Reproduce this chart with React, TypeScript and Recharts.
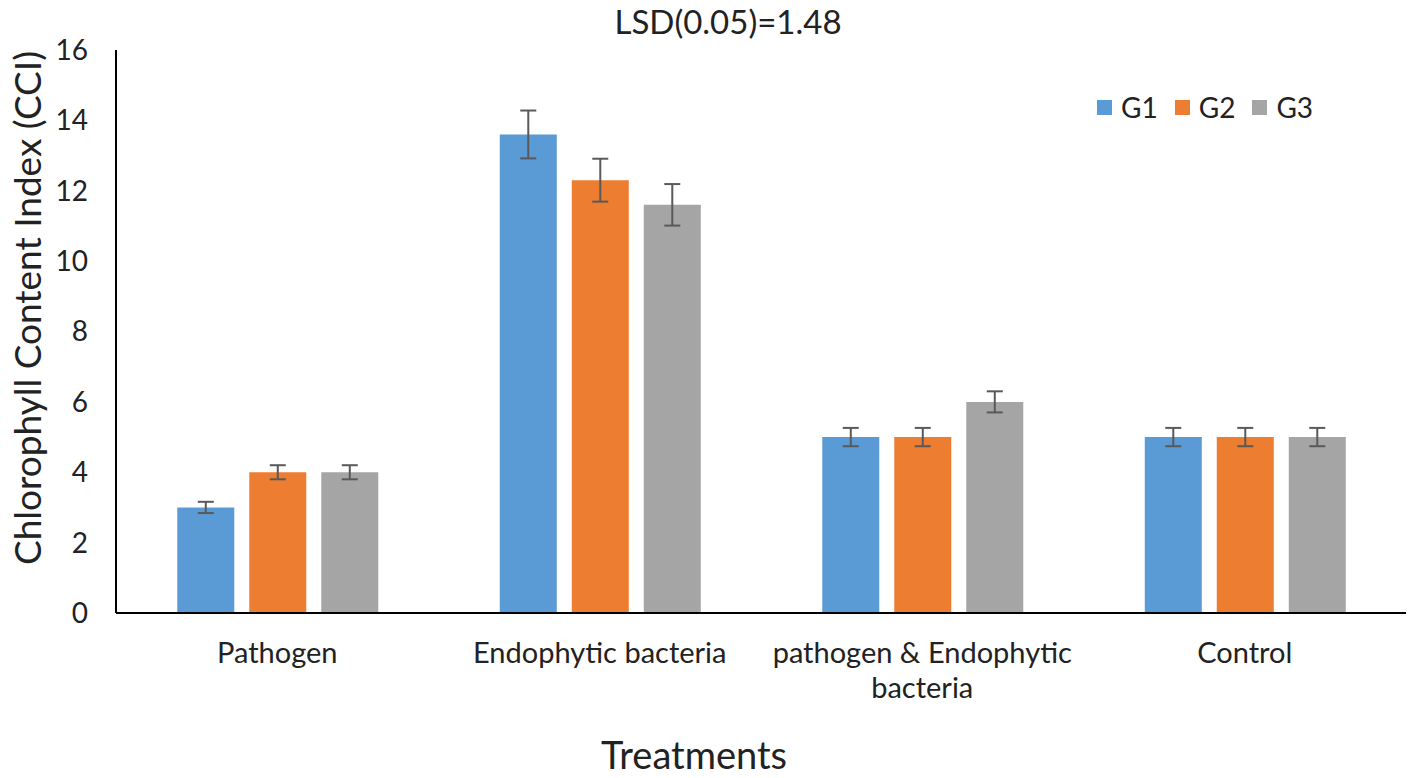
import React from "react";
import { BarChart, Bar, XAxis, YAxis, ErrorBar } from "recharts";

const categories = ["Pathogen", "Endophytic bacteria", "pathogen & Endophytic bacteria", "Control"];
const tickLabels = [["Pathogen"], ["Endophytic bacteria"], ["pathogen & Endophytic", "bacteria"], ["Control"]];
const seriesNames = ["G1", "G2", "G3"];
const seriesColors = ["#5B9BD5", "#ED7D31", "#A5A5A5"];
const g1 = [3, 13.6, 5, 5];
const g2 = [4, 12.3, 5, 5];
const g3 = [4, 11.6, 6, 5];
const errG1 = [0.16, 0.68, 0.26, 0.26];
const errG2 = [0.2, 0.61, 0.26, 0.26];
const errG3 = [0.2, 0.59, 0.3, 0.26];
const yTicks = [0, 2, 4, 6, 8, 10, 12, 14, 16];

const FONT = "Lato, 'Open Sans', sans-serif";
const TEXT = "#222";

const data = categories.map((name, i) => ({
  name,
  G1: g1[i],
  G2: g2[i],
  G3: g3[i],
  e1: errG1[i],
  e2: errG2[i],
  e3: errG3[i],
}));

function CategoryTick(props: any) {
  const { x, y, payload } = props;
  const lines = tickLabels[payload.index] || [payload.value];
  return (
    <text x={x} y={y} textAnchor="middle" fontSize={29} fill={TEXT} fontFamily={FONT}>
      {lines.map((line, i) => (
        <tspan key={i} x={x} dy={i === 0 ? 50 : 35}>
          {line}
        </tspan>
      ))}
    </text>
  );
}

function YTitle(props: any) {
  const { viewBox } = props;
  const cx = viewBox.x + 41;
  const cy = 308;
  return (
    <text
      x={cx}
      y={cy}
      transform={`rotate(-90, ${cx}, ${cy})`}
      textAnchor="middle"
      fontSize={37}
      fill={TEXT}
      fontFamily={FONT}
    >
      Chlorophyll Content Index (CCI)
    </text>
  );
}

export default function App() {
  return (
    <div style={{ position: "absolute", left: 0, top: 0, width: 1418, height: 778, background: "#fff" }}>
      <div
        style={{
          position: "absolute",
          top: 1,
          left: 0,
          width: 1456,
          textAlign: "center",
          fontFamily: FONT,
          fontSize: 33,
          color: TEXT,
        }}
      >
        LSD(0.05)=1.48
      </div>
      <div
        style={{
          position: "absolute",
          top: 90,
          left: 1097,
          display: "flex",
          alignItems: "center",
          fontFamily: FONT,
          fontSize: 28,
          color: TEXT,
          zIndex: 2,
        }}
      >
        {seriesNames.map((s, i) => (
          <div key={s} style={{ display: "flex", alignItems: "center", marginRight: 17 }}>
            <span
              style={{ width: 15, height: 15, background: seriesColors[i], display: "inline-block", marginRight: 9 }}
            />
            <span>{s}</span>
          </div>
        ))}
      </div>
      <BarChart
        width={1418}
        height={778}
        data={data}
        margin={{ top: 50, right: 12, left: 0, bottom: 0 }}
        barGap={15}
        barCategoryGap="19%"
      >
        <XAxis
          dataKey="name"
          height={165}
          axisLine={{ stroke: "#000", strokeWidth: 2 }}
          tickLine={false}
          tickSize={0}
          tickMargin={0}
          interval={0}
          tick={<CategoryTick />}
          label={{
            value: "Treatments",
            position: "insideBottom",
            offset: 9,
            dx: -67,
            fontSize: 38,
            fill: TEXT,
            fontFamily: FONT,
          }}
        />
        <YAxis
          width={116}
          domain={[0, 16]}
          ticks={yTicks}
          axisLine={{ stroke: "#000", strokeWidth: 2 }}
          tickLine={false}
          tickSize={0}
          tickMargin={28}
          tick={{ fontSize: 28, fill: TEXT, fontFamily: FONT }}
          label={<YTitle />}
        />
        <Bar dataKey="G1" fill={seriesColors[0]} isAnimationActive={false}>
          <ErrorBar dataKey="e1" width={8} stroke="#595959" strokeWidth={2} isAnimationActive={false} />
        </Bar>
        <Bar dataKey="G2" fill={seriesColors[1]} isAnimationActive={false}>
          <ErrorBar dataKey="e2" width={8} stroke="#595959" strokeWidth={2} isAnimationActive={false} />
        </Bar>
        <Bar dataKey="G3" fill={seriesColors[2]} isAnimationActive={false}>
          <ErrorBar dataKey="e3" width={8} stroke="#595959" strokeWidth={2} isAnimationActive={false} />
        </Bar>
      </BarChart>
    </div>
  );
}
